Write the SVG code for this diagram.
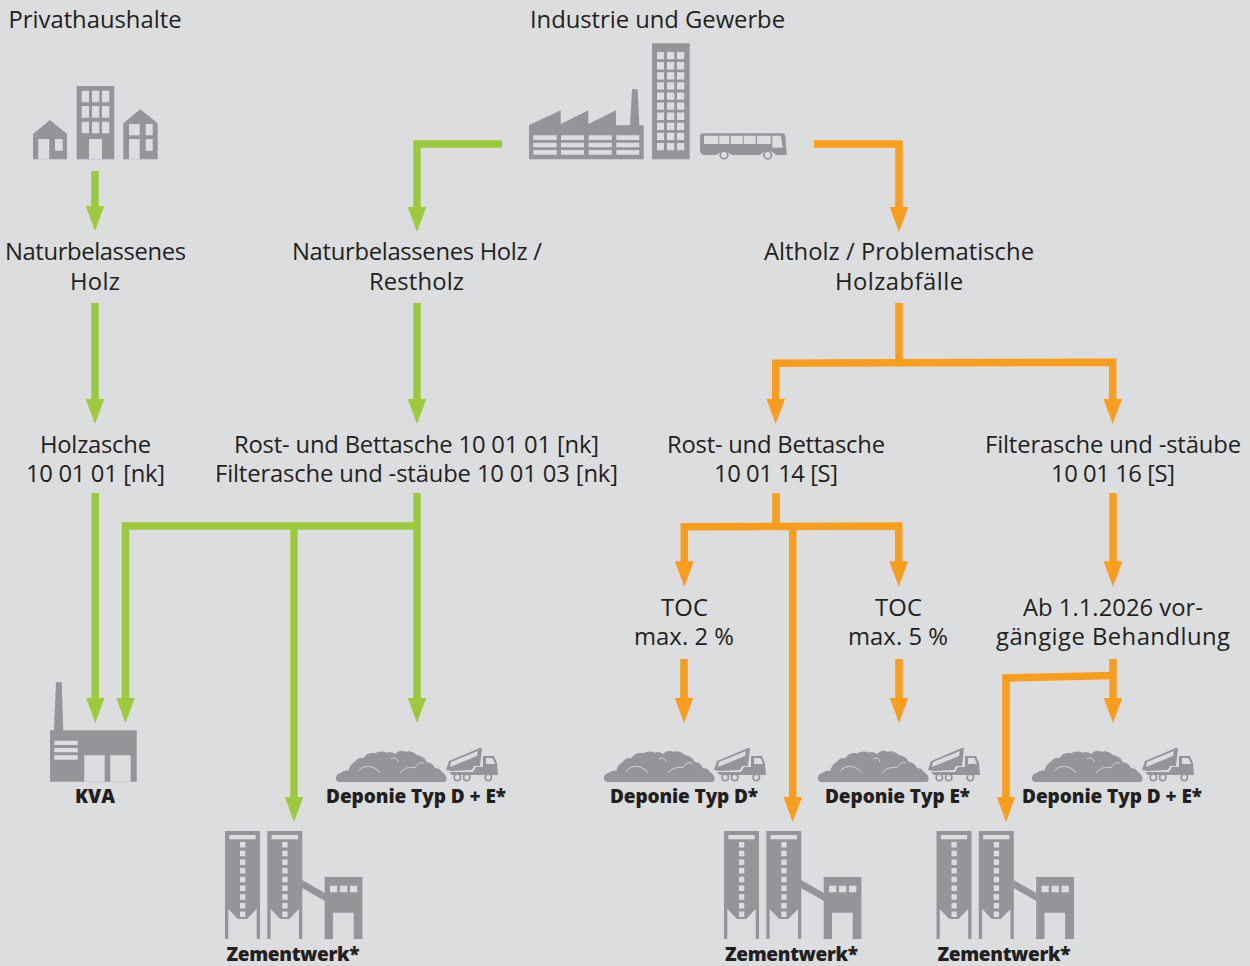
<svg xmlns="http://www.w3.org/2000/svg" xmlns:xlink="http://www.w3.org/1999/xlink" width="1250" height="966" viewBox="0 0 1250 966">
<style>
.t{font-family:"Open Sans","Noto Sans",sans-serif;font-size:23.800px;fill:#231f20;text-anchor:middle}
.b{font-family:"Open Sans","Noto Sans",sans-serif;font-size:19px;font-weight:800;fill:#231f20;text-anchor:middle}
.ic{fill:#939598}
.cut{fill:#dcddde}
.g{fill:none;stroke:#9bcb3c;stroke-width:7.500;marker-end:url(#ag)}
.o{fill:none;stroke:#f99d1c;stroke-width:7.500;marker-end:url(#ao)}
.o0{fill:none;stroke:#f99d1c;stroke-width:7.500}
</style>
<defs>
<marker id="ag" markerUnits="userSpaceOnUse" markerWidth="26" markerHeight="20" refX="1" refY="9.400" orient="auto"><path d="M0,0L25.400,9.400L0,18.800Z" fill="#9bcb3c"/></marker>
<marker id="ao" markerUnits="userSpaceOnUse" markerWidth="26" markerHeight="20" refX="1" refY="9.400" orient="auto"><path d="M0,0L25.400,9.400L0,18.800Z" fill="#f99d1c"/></marker>
<g id="deponie">
<path class="ic" d="M336,778.300Q336,774 340,773.300Q344,770 348.300,770.700Q350,764 355,761.700Q358,757 363.300,758.300Q367,752 375,753.300Q381,750 386.700,752.700Q391,751 395,754Q400,749 405,751.700Q412,750 416.700,755Q424,756 426.700,761.700Q433,763 435,768.300Q440,768 441.700,771.700Q447,775 446.700,780L445,782H339Q335,781 336,778.300Z"/>
<path d="M358,771.500C363,765 372,764 380,772.500M400,773C404,768 409,767 415,767.500C418,763 421,762 424,763M391,759C394,757 397,758 398,762" fill="none" stroke="#dcddde" stroke-width=".9"/>
<path class="ic" d="M446,770L449,761L480,748L482,748L480,766L474,766L472,770L452,771ZM483,756H494L497,763L498,775H452L449,772H473L476,767H483Z"/>
<path class="cut" d="M451,762L478,751L477,756L450,767ZM486,758H492.500L495,764H486Z"/>
<g fill="#dcddde" stroke="#939598" stroke-width="1.600"><circle cx="457.300" cy="777.500" r="3.200"/><circle cx="466.700" cy="777.500" r="3.200"/><circle cx="488.300" cy="777.500" r="3.200"/></g>
</g>
<g id="silo">
<rect class="ic" x="225" y="831" width="35" height="108"/>
<rect class="cut" x="229.300" y="835" width="26.400" height="4.300"/>
<path class="cut" d="M240,842h5.300v5.500h-5.300zM240,850.700h5.300v5.500h-5.300zM240,859.400h5.300v5.500h-5.300zM240,868.100h5.300v5.500h-5.300zM240,876.800h5.300v5.500h-5.300zM240,885.500h5.300v5.500h-5.300zM240,894.200h5.300v5.500h-5.300zM240,902.900h5.300v5.500h-5.300zM240,911.600h5.300v5.500h-5.300z"/>
<path class="cut" d="M228.300,909L238,919L247,919L256.700,909V939H228.300Z"/>
</g>
<g id="zement">
<use xlink:href="#silo" href="#silo"/>
<use xlink:href="#silo" href="#silo" x="42.300"/>
<path class="ic" d="M302,880L325,893V901L302,888Z"/>
<rect class="ic" x="324.700" y="877" width="37.700" height="62"/>
<path class="cut" d="M333,912.700h20.700V939H333ZM330,885.700h7.300v6.600h-7.300zM340,885.700h7.300v6.600h-7.300zM350,885.700h7.300v6.600h-7.300z"/>
</g>
</defs>
<rect width="1250" height="966" fill="#dcddde"/>
<g id="connectors">
<path class="g" d="M95,171V206.500"/>
<path class="g" d="M95,303V399.500"/>
<path class="g" d="M95.300,493V698.500"/>
<path class="g" d="M502,144H417V207.500"/>
<path class="g" d="M417,303V399.500"/>
<path class="g" d="M417,493V698.500"/>
<path class="g" d="M417,526H125.500V698.500"/>
<path class="g" d="M294,526V797.500"/>
<path class="o" d="M814,144H899V207.500"/>
<path class="o0" d="M899,303V363"/>
<path class="o" d="M899,362.800L775.700,363.300V399.500"/>
<path class="o" d="M899,362.800L1112.700,362.300V399.500"/>
<path class="o0" d="M776,493V526.500"/>
<path class="o" d="M776,526.500L684.300,526.700V562.300"/>
<path class="o" d="M776,526.500L898.700,526V562.300"/>
<path class="o" d="M792.700,526.500V797.500"/>
<path class="o" d="M1113,493V562.300"/>
<path class="o" d="M684,659V698.500"/>
<path class="o" d="M899,659V698.500"/>
<path class="o" d="M1113,659V698.500"/>
<path class="o" d="M1113,675.500L1006,678V797.500"/>
</g>
<g id="privathaushalte">
<text class="t" x="95" y="28" textLength="173">Privathaushalte</text>
<path class="ic" d="M33,134L50,120L67,134V159.300H33Z"/>
<path class="cut" d="M38.300,139H49.300V159.300H38.300ZM55,139H62.700V150.700H55Z"/>
<rect class="ic" x="76.700" y="86" width="37.600" height="73.300"/>
<path class="cut" d="M81.700,90.700H89V102.300H81.700ZM92,90.700H99.300V102.300H92ZM102,90.700H109.300V102.300H102ZM81.700,106H89V117.700H81.700ZM92,106H99.300V117.700H92ZM102,106H109.300V117.700H102ZM81.700,121.700H89V133.300H81.700ZM92,121.700H99.300V133.300H92ZM102,121.700H109.300V133.300H102ZM89,139H102V159.300H89Z"/>
<path class="ic" d="M123.300,123.300L140.300,109.300L157.700,123.300V159.300H123.300Z"/>
<path class="cut" d="M129,124H139.700V135.300H129ZM145.700,124H152.700V135.300H145.700ZM129,139H139.700V159.300H129ZM145.700,139H152.700V150.700H145.700Z"/>
</g>
<g id="industrie">
<text class="t" x="657.500" y="28" textLength="255">Industrie und Gewerbe</text>
<path class="ic" d="M529,125L560.700,110.300V124L588.300,110.300V124L616,110.300V125.300H630L632,89.300H637.700L639.300,125.300H643.700V159.300H529Z"/>
<path class="cut" d="M533.300,135.300h23.400v4.700h-23.400zM561,135.300h23v4.700h-23zM588.700,135.300h23v4.700h-23zM616.300,135.300h23v4.700h-23zM533.300,142.700h23.400v4.600h-23.400zM561,142.700h23v4.600h-23zM588.700,142.700h23v4.600h-23zM616.300,142.700h23v4.600h-23zM533.300,150h23.400v4.700h-23.400zM561,150h23v4.700h-23zM588.700,150h23v4.700h-23zM616.300,150h23v4.700h-23z"/>
<rect class="ic" x="652" y="43.300" width="37.700" height="116"/>
<path class="cut" d="M657,52h7v7.300h-7zM667,52h7.300v7.300h-7.300zM677,52h7.300v7.300h-7.300zM657,62.100h7v7.300h-7zM667,62.100h7.300v7.300h-7.300zM677,62.100h7.300v7.300h-7.300zM657,72.200h7v7.300h-7zM667,72.200h7.300v7.300h-7.300zM677,72.200h7.300v7.300h-7.300zM657,82.300h7v7.300h-7zM667,82.300h7.300v7.300h-7.300zM677,82.300h7.300v7.300h-7.300zM657,92.400h7v7.300h-7zM667,92.400h7.300v7.300h-7.300zM677,92.400h7.300v7.300h-7.300zM657,102.500h7v7.300h-7zM667,102.500h7.300v7.300h-7.300zM677,102.500h7.300v7.300h-7.300zM657,112.600h7v7.300h-7zM667,112.600h7.300v7.300h-7.300zM677,112.600h7.300v7.300h-7.300zM657,122.700h7v7.300h-7zM667,122.700h7.300v7.300h-7.300zM677,122.700h7.300v7.300h-7.300zM657,132.800h7v7.300h-7zM667,132.800h7.300v7.300h-7.300zM677,132.800h7.300v7.300h-7.300zM657,142.900h7v7.300h-7zM667,142.900h7.300v7.300h-7.300zM677,142.900h7.300v7.300h-7.300z"/>
<path class="ic" d="M703,133.300H782Q785,133.300 785.500,137L786.700,155H776Q768,146 760,155H732Q724,148 716,155H705Q700,155 700,150V136Q700,133.300 703,133.300Z"/>
<path class="cut" d="M704,135.700h14.300v8.300h-14.300zM719.300,135.700h10v8.300h-10zM730.700,135.700h12v8.300h-12zM743.700,135.700h12v8.300h-12zM757,135.700h13.700v8.300h-13.700zM772.300,135.700h8.500l2,12h-10.500z"/>
<g fill="#dcddde" stroke="#939598" stroke-width="1.800"><circle cx="724" cy="155" r="3.800"/><circle cx="767.700" cy="155" r="3.800"/></g>
</g>
<g id="n-holz1"><text class="t" x="95.500" y="260" textLength="181">Naturbelassenes</text><text class="t" x="95" y="290" textLength="50">Holz</text></g>
<g id="n-holz2"><text class="t" x="417" y="260" textLength="250">Naturbelassenes Holz /</text><text class="t" x="416.500" y="290" textLength="95">Restholz</text></g>
<g id="n-altholz"><text class="t" x="899" y="260" textLength="270">Altholz / Problematische</text><text class="t" x="899" y="290" textLength="128">Holzabfälle</text></g>
<g id="n-holzasche"><text class="t" x="95.500" y="453" textLength="111">Holzasche</text><text class="t" x="95.500" y="482" textLength="139">10 01 01 [nk]</text></g>
<g id="n-rost1"><text class="t" x="416.500" y="453" textLength="365">Rost- und Bettasche 10 01 01 [nk]</text><text class="t" x="416.500" y="482" textLength="403">Filterasche und -stäube 10 01 03 [nk]</text></g>
<g id="n-rost2"><text class="t" x="776" y="453" textLength="218">Rost- und Bettasche</text><text class="t" x="776" y="482" textLength="124">10 01 14 [S]</text></g>
<g id="n-filter"><text class="t" x="1113" y="453" textLength="256">Filterasche und -stäube</text><text class="t" x="1113" y="482" textLength="124">10 01 16 [S]</text></g>
<g id="n-toc2"><text class="t" x="684.500" y="616" textLength="47">TOC</text><text class="t" x="684" y="645" textLength="100">max. 2 %</text></g>
<g id="n-toc5"><text class="t" x="898.500" y="616" textLength="47">TOC</text><text class="t" x="898" y="645" textLength="100">max. 5 %</text></g>
<g id="n-ab"><text class="t" x="1113" y="616" textLength="180">Ab 1.1.2026 vor-</text><text class="t" x="1113" y="645" textLength="234">gängige Behandlung</text></g>
<g id="kva">
<path class="ic" d="M56,682.300H61.700L63.300,730.300H136.700V781.700H50V730.300H54Z"/>
<path class="cut" d="M54.300,740.700h23.400v4.300h-23.400zM54.300,748h23.400v4.300h-23.400zM54.300,755.300h23.400v4.400h-23.400zM84.300,755.300h20.400v26.400h-20.400zM110.300,755.300h20.400v26.400h-20.400z"/>
<text class="b" x="95" y="803" textLength="40">KVA</text>
</g>
<g id="deponie1"><use xlink:href="#deponie" href="#deponie"/><text class="b" x="416" y="803" textLength="180">Deponie Typ D + E*</text></g>
<g id="deponie2"><use xlink:href="#deponie" href="#deponie" x="268"/><text class="b" x="684" y="803" textLength="148">Deponie Typ D*</text></g>
<g id="deponie3"><use xlink:href="#deponie" href="#deponie" x="482"/><text class="b" x="897.500" y="803" textLength="145">Deponie Typ E*</text></g>
<g id="deponie4"><use xlink:href="#deponie" href="#deponie" x="696"/><text class="b" x="1112" y="803" textLength="180">Deponie Typ D + E*</text></g>
<g id="zement1"><use xlink:href="#zement" href="#zement"/><text class="b" x="293" y="961" textLength="133">Zementwerk*</text></g>
<g id="zement2"><use xlink:href="#zement" href="#zement" x="499"/><text class="b" x="791.500" y="961" textLength="133">Zementwerk*</text></g>
<g id="zement3"><use xlink:href="#zement" href="#zement" x="711.500"/><text class="b" x="1004" y="961" textLength="133">Zementwerk*</text></g>
</svg>
